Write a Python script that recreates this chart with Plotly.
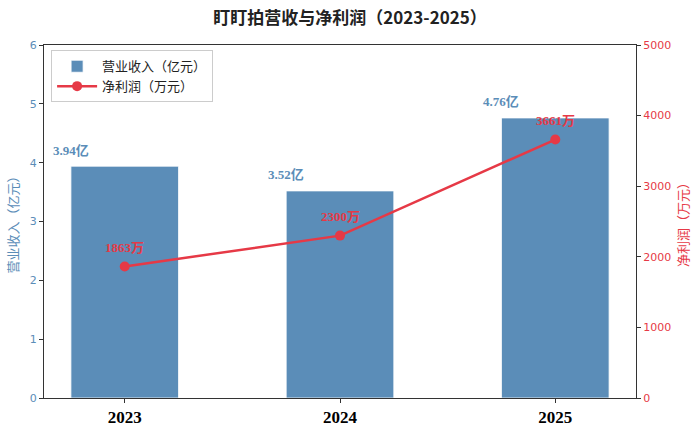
import plotly.graph_objects as go

years = ["2023", "2024", "2025"]
revenue = [3.94, 3.52, 4.76]          # 亿元
profit = [1863, 2300, 3661]           # 万元
rev_labels = ["3.94亿", "3.52亿", "4.76亿"]
profit_labels = ["1863万", "2300万", "3661万"]

BLUE = "#5b8db8"
RED = "#e63946"
SERIF = "Liberation Serif, Noto Sans CJK SC, serif"
CJK = "Noto Sans CJK SC, sans-serif"

xs = [0, 1, 2]
fig = go.Figure()
fig.add_trace(go.Bar(x=xs, y=revenue, width=0.5, name="营业收入（亿元）",
                     marker=dict(color=BLUE, line=dict(color="white", width=0.8)),
                     yaxis="y"))
fig.add_trace(go.Scatter(x=xs, y=profit, mode="lines+markers", name="净利润（万元）",
                         line=dict(color=RED, width=2.5),
                         marker=dict(color=RED, size=10), yaxis="y2"))

for i, (v, t) in enumerate(zip(revenue, rev_labels)):
    fig.add_annotation(x=i - 0.25, y=v, xref="x", yref="y", text="<b>" + t + "</b>", showarrow=False,
                       yshift=16, font=dict(family=SERIF, size=13, color=BLUE))
for i, (v, t) in enumerate(zip(profit, profit_labels)):
    fig.add_annotation(x=i, y=v, xref="x", yref="y2", text="<b>" + t + "</b>", showarrow=False,
                       yshift=19, font=dict(family=SERIF, size=13, color=RED))

fig.update_layout(
    width=700, height=434,
    margin=dict(l=44, r=64, t=45, b=36),
    paper_bgcolor="white", plot_bgcolor="white",
    title=dict(text="<b>盯盯拍营收与净利润（2023-2025）</b>", x=0.5, xanchor="center",
               y=0.958, yanchor="middle", font=dict(family=CJK, size=17, color="#222")),
    xaxis=dict(range=[-0.375, 2.375], tickvals=xs, ticktext=["<b>" + y + "</b>" for y in years],
               tickfont=dict(family="Liberation Serif, serif", size=17, color="black"),
               showline=True, linecolor="#333", linewidth=1, mirror=True, automargin=False,
               ticks="outside", ticklen=4, tickcolor="#333", showgrid=False, zeroline=False),
    yaxis=dict(range=[0, 6], dtick=1, tickfont=dict(family="DejaVu Sans", size=11, color=BLUE),
               title=dict(text="营业收入（亿元）", font=dict(family=CJK, size=13, color=BLUE), standoff=8),
               showline=True, linecolor="#333", linewidth=1, automargin=False,
               ticks="outside", ticklen=4, tickcolor="#333", showgrid=False, zeroline=False),
    yaxis2=dict(range=[0, 5000], dtick=1000, overlaying="y", side="right",
                tickfont=dict(family="DejaVu Sans", size=11, color=RED),
                title=dict(text="净利润（万元）", font=dict(family=CJK, size=13, color=RED), standoff=8),
                showline=True, linecolor="#333", linewidth=1, automargin=False,
                ticks="outside", ticklen=4, tickcolor="#333", showgrid=False, zeroline=False),
    legend=dict(x=0.012, y=0.985, xanchor="left", yanchor="top",
                bordercolor="#cccccc", borderwidth=1, bgcolor="rgba(255,255,255,0.9)",
                font=dict(family=CJK, size=13, color="#222"), tracegroupgap=2,
                itemwidth=40),
    bargap=0.5, showlegend=True,
)

fig.write_html("out.html")
